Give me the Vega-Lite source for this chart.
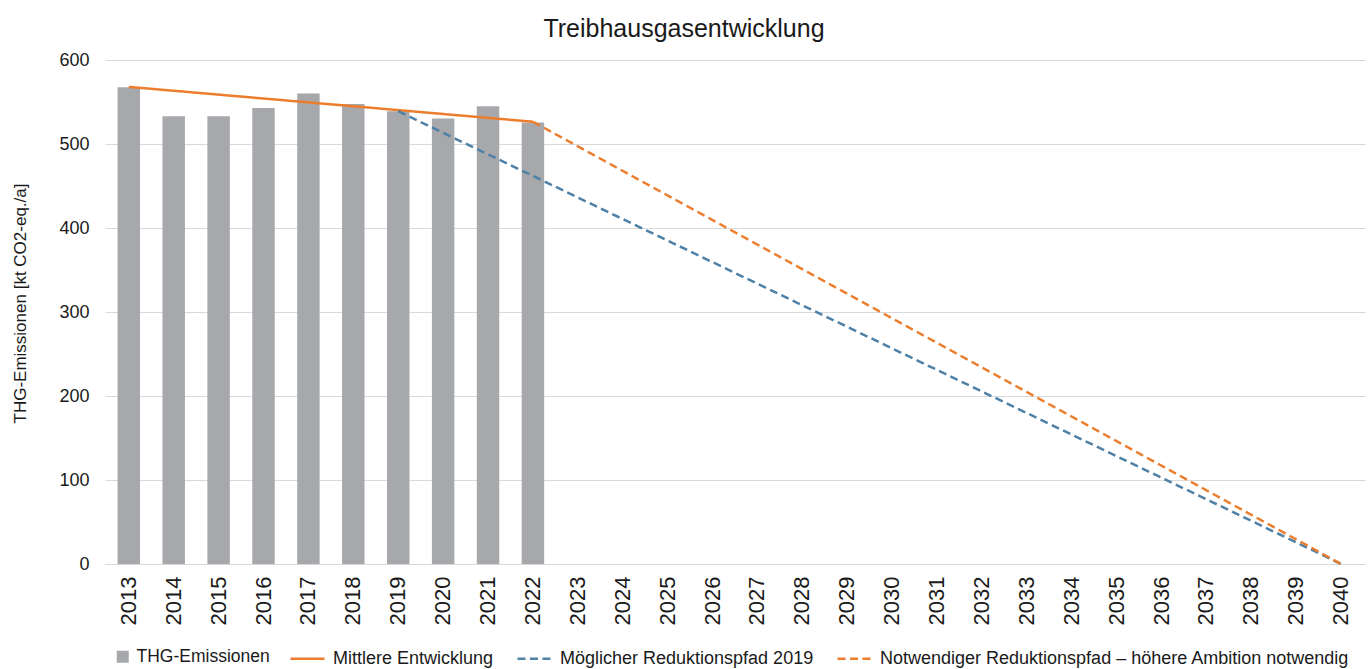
{
  "$schema": "https://vega.github.io/schema/vega-lite/v6.json",
  "width": 1260,
  "height": 504,
  "autosize": {"type": "none"},
  "padding": {"left": 105, "top": 60, "right": 6, "bottom": 105},
  "background": "white",
  "title": {
    "text": "Treibhausgasentwicklung",
    "font": "Liberation Sans, Arial, sans-serif",
    "fontSize": 25,
    "fontWeight": "normal",
    "color": "#1a1a1a",
    "anchor": "middle",
    "dx": -51,
    "offset": 9
  },
  "data": {
    "values": [
      {"year": "2013", "series": "THG-Emissionen", "value": 567.5},
      {"year": "2014", "series": "THG-Emissionen", "value": 533},
      {"year": "2015", "series": "THG-Emissionen", "value": 533},
      {"year": "2016", "series": "THG-Emissionen", "value": 543},
      {"year": "2017", "series": "THG-Emissionen", "value": 560},
      {"year": "2018", "series": "THG-Emissionen", "value": 547.5},
      {"year": "2019", "series": "THG-Emissionen", "value": 539},
      {"year": "2020", "series": "THG-Emissionen", "value": 530.5},
      {"year": "2021", "series": "THG-Emissionen", "value": 545},
      {"year": "2022", "series": "THG-Emissionen", "value": 525.5},
      {"year": "2013", "series": "Mittlere Entwicklung", "value": 568},
      {"year": "2022", "series": "Mittlere Entwicklung", "value": 526.5},
      {"year": "2019", "series": "Möglicher Reduktionspfad 2019", "value": 539},
      {"year": "2040", "series": "Möglicher Reduktionspfad 2019", "value": 0},
      {"year": "2022", "series": "Notwendiger Reduktionspfad – höhere Ambition notwendig", "value": 526.5},
      {"year": "2040", "series": "Notwendiger Reduktionspfad – höhere Ambition notwendig", "value": 0}
    ]
  },
  "encoding": {
    "x": {
      "field": "year",
      "type": "ordinal",
      "scale": {
        "domain": ["2013","2014","2015","2016","2017","2018","2019","2020","2021","2022","2023","2024","2025","2026","2027","2028","2029","2030","2031","2032","2033","2034","2035","2036","2037","2038","2039","2040"],
        "paddingInner": 0.5,
        "paddingOuter": 0.28
      },
      "axis": {
        "title": null,
        "labelAngle": -90,
        "labelFont": "Liberation Sans, Arial, sans-serif",
        "labelFontSize": 22,
        "labelColor": "#1a1a1a",
        "labelPadding": 12,
        "ticks": false,
        "domain": true,
        "domainColor": "#d9d9d9",
        "grid": false
      }
    },
    "y": {
      "field": "value",
      "type": "quantitative",
      "scale": {"domain": [0, 600], "nice": false},
      "axis": {
        "title": "THG-Emissionen [kt CO2-eq./a]",
        "titleFont": "Liberation Sans, Arial, sans-serif",
        "titleFontSize": 17,
        "titleFontWeight": "normal",
        "titleColor": "#1a1a1a",
        "titlePadding": 29,
        "titleY": 243,
        "values": [0, 100, 200, 300, 400, 500, 600],
        "labelFont": "Liberation Sans, Arial, sans-serif",
        "labelFontSize": 18,
        "labelColor": "#1a1a1a",
        "labelPadding": 16,
        "ticks": false,
        "domain": false,
        "grid": true,
        "gridColor": "#d9d9d9"
      }
    }
  },
  "layer": [
    {
      "transform": [{"filter": "datum.series === 'THG-Emissionen'"}],
      "mark": {"type": "bar"},
      "encoding": {
        "fill": {
          "field": "series",
          "type": "nominal",
          "scale": {"domain": ["THG-Emissionen"], "range": ["#a7a8ab"]},
          "legend": {
            "title": null,
            "orient": "none",
            "legendX": 9,
            "legendY": 588,
            "padding": 0,
            "direction": "horizontal",
            "labelFont": "Liberation Sans, Arial, sans-serif",
            "labelFontSize": 17.5,
            "labelColor": "#1a1a1a",
            "symbolType": "square",
            "symbolSize": 144,
            "symbolStrokeWidth": 0,
            "labelOffset": 5
          }
        }
      }
    },
    {
      "transform": [{"filter": "datum.series !== 'THG-Emissionen'"}],
      "mark": {"type": "line", "strokeWidth": 2.5},
      "encoding": {
        "stroke": {
          "field": "series",
          "type": "nominal",
          "scale": {
            "domain": ["Mittlere Entwicklung", "Möglicher Reduktionspfad 2019", "Notwendiger Reduktionspfad – höhere Ambition notwendig"],
            "range": ["#ec7d2d", "#4f81a6", "#ec7d2d"]
          },
          "legend": {
            "title": null,
            "orient": "none",
            "legendX": 184,
            "legendY": 580,
            "padding": 0,
            "direction": "horizontal",
            "labelFont": "Liberation Sans, Arial, sans-serif",
            "labelFontSize": 18,
            "labelColor": "#1a1a1a",
            "symbolType": "stroke",
            "symbolSize": 1156,
            "symbolStrokeWidth": 2.5,
            "columnPadding": 18,
            "labelOffset": 7,
            "labelLimit": 600
          }
        },
        "strokeDash": {
          "field": "series",
          "type": "nominal",
          "scale": {
            "domain": ["Mittlere Entwicklung", "Möglicher Reduktionspfad 2019", "Notwendiger Reduktionspfad – höhere Ambition notwendig"],
            "range": [[1, 0], [8, 4.5], [8, 4.5]]
          },
          "legend": {
            "title": null,
            "orient": "none",
            "legendX": 184,
            "legendY": 580,
            "padding": 0,
            "direction": "horizontal",
            "labelFont": "Liberation Sans, Arial, sans-serif",
            "labelFontSize": 18,
            "labelColor": "#1a1a1a",
            "symbolType": "stroke",
            "symbolSize": 1156,
            "symbolStrokeWidth": 2.5,
            "columnPadding": 18,
            "labelOffset": 7,
            "labelLimit": 600
          }
        }
      }
    }
  ],
  "config": {
    "view": {"stroke": null}
  }
}
